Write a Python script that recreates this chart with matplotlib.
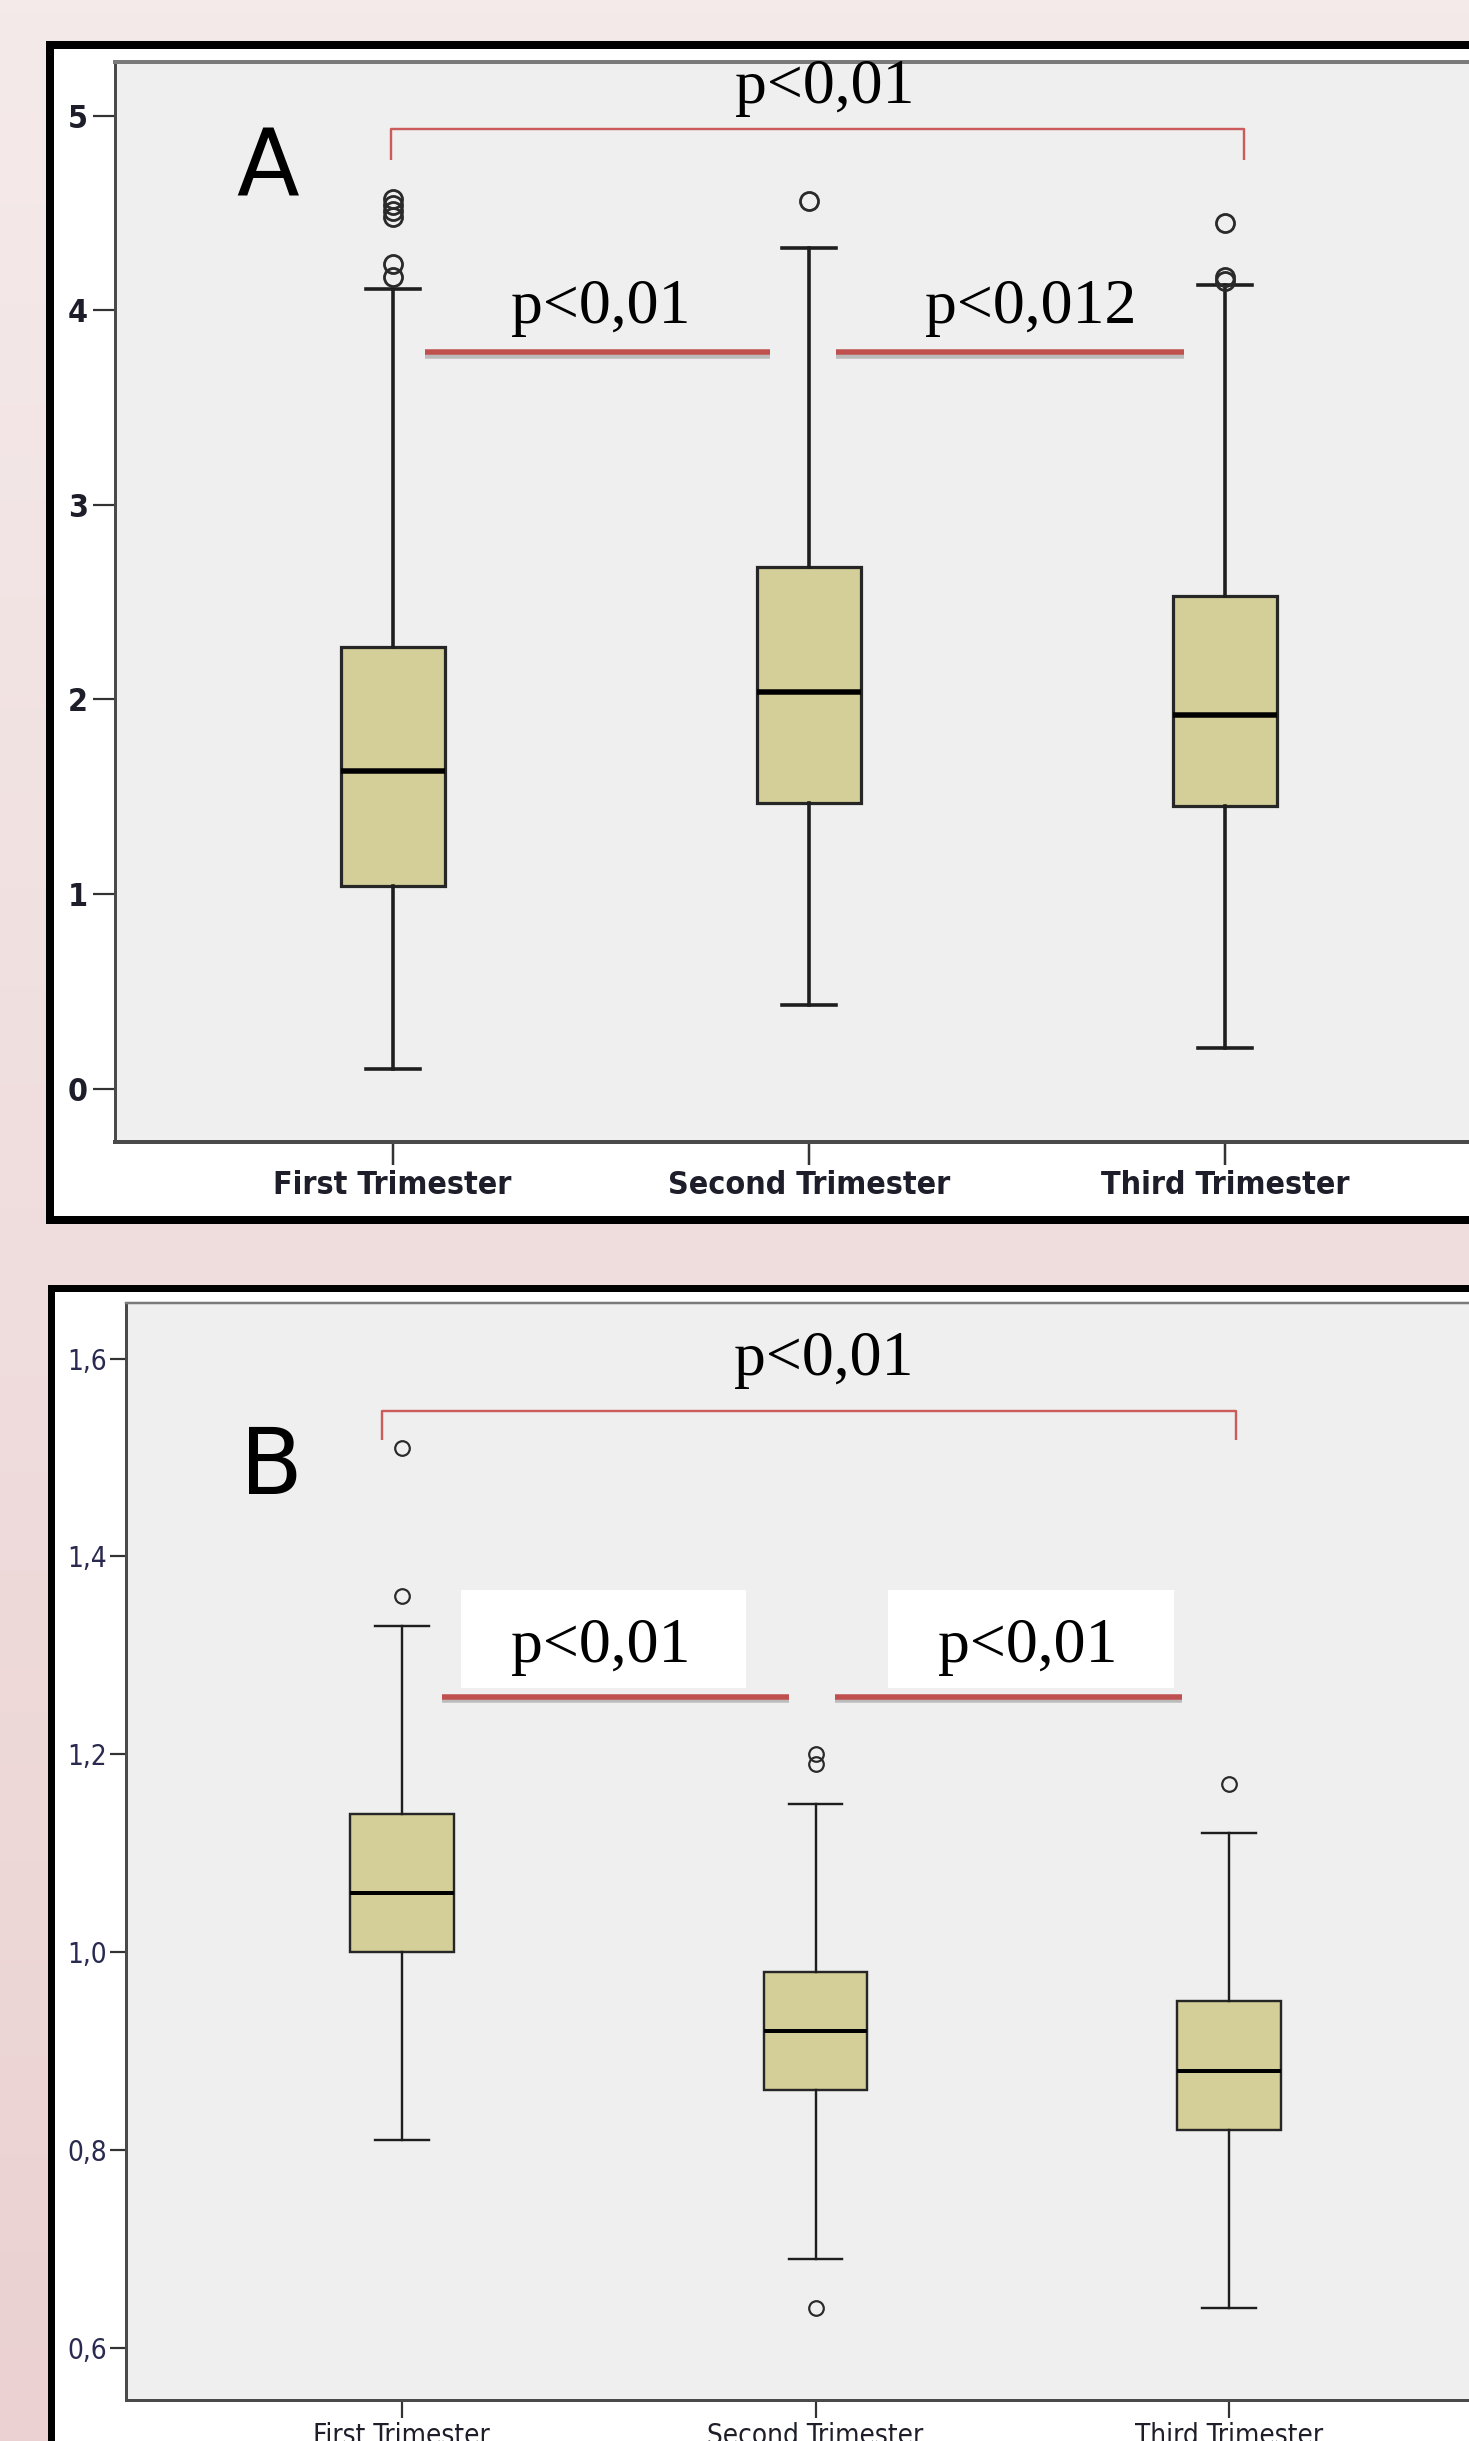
import numpy as np
import matplotlib
matplotlib.use("Agg")
import matplotlib.pyplot as plt
from matplotlib.patches import Rectangle
from matplotlib import font_manager
from matplotlib.font_manager import FontProperties
import matplotlib.patheffects as pe

# ---------------- data ----------------
categories = ["First Trimester", "Second Trimester", "Third Trimester"]

# Panel A
a_whislo = [0.10, 0.43, 0.21]
a_q1 = [1.04, 1.47, 1.45]
a_med = [1.63, 2.04, 1.92]
a_q3 = [2.27, 2.68, 2.53]
a_whishi = [4.11, 4.32, 4.13]
a_fliers = [[4.57, 4.54, 4.51, 4.48, 4.24, 4.17], [4.56], [4.45, 4.17, 4.15]]
a_yticks = [0, 1, 2, 3, 4, 5]
a_yticklabels = ["0", "1", "2", "3", "4", "5"]
a_pvals = ["p<0,01", "p<0,01", "p<0,012"]   # top, left pair, right pair

# Panel B
b_whislo = [0.81, 0.69, 0.64]
b_q1 = [1.00, 0.86, 0.82]
b_med = [1.06, 0.92, 0.88]
b_q3 = [1.14, 0.98, 0.95]
b_whishi = [1.33, 1.15, 1.12]
b_fliers = [[1.51, 1.36], [1.20, 1.19, 0.64], [1.17]]
b_yticks = [0.6, 0.8, 1.0, 1.2, 1.4, 1.6]
b_yticklabels = ["0,6", "0,8", "1,0", "1,2", "1,4", "1,6"]
b_pvals = ["p<0,01", "p<0,01", "p<0,01"]

panel_letters = ["A", "B"]

# ---------------- fonts ----------------
ttf = font_manager.fontManager.ttflist
names = {f.name for f in ttf}


def find_font(cands, bold):
    for nm in cands:
        for f in ttf:
            if f.name == nm and f.style == "normal":
                w = f.weight if isinstance(f.weight, int) else (700 if "bold" in str(f.weight) else 400)
                if (w >= 600) == bold:
                    return f.fname
    return None


cond_bold = None
cond_reg = None
for f in ttf:
    if "Condensed" in f.fname and "DejaVuSans" in f.fname.replace(" ", ""):
        if "Bold" in f.fname and "Oblique" not in f.fname:
            cond_bold = f.fname
        elif "Bold" not in f.fname and "Oblique" not in f.fname:
            cond_reg = f.fname
if "Liberation Sans Narrow" in names:
    nb = find_font(["Liberation Sans Narrow"], True)
    nr = find_font(["Liberation Sans Narrow"], False)
    cond_bold = cond_bold or nb
    cond_reg = cond_reg or nr

if cond_bold:
    FP_AX = FontProperties(fname=cond_bold)
    AX_SIZE, AY_SIZE = 23, 23
else:
    FP_AX = FontProperties(family="Liberation Sans", weight="bold")
    AX_SIZE, AY_SIZE = 21, 21
if cond_reg:
    FP_BX = FontProperties(fname=cond_reg)
    BX_SIZE, BY_SIZE = 20, 20
else:
    FP_BX = FontProperties(family="Liberation Sans")
    BX_SIZE, BY_SIZE = 18, 19

SERIF = "Liberation Serif" if "Liberation Serif" in names else "DejaVu Serif"
BOXFILL = "#d4cf98"
AXBG = "#efefef"
RED = "#c0504d"
TXT = "#1e1e2a"

W, H = 1469, 2441
DPI = 100
fig = plt.figure(figsize=(W / DPI, H / DPI), dpi=DPI)
px = 72.0 / DPI  # points per pixel

# background gradient + frames (pixel coordinates)
bg = fig.add_axes([0, 0, 1, 1], zorder=-10)
bg.set_xlim(0, W)
bg.set_ylim(H, 0)
bg.axis("off")
top_c = np.array([0.960, 0.918, 0.918])
bot_c = np.array([0.922, 0.820, 0.820])
t = np.linspace(0, 1, 256)[:, None, None]
grad = top_c * (1 - t) + bot_c * t
grad = np.repeat(grad, 2, axis=1)
bg.imshow(grad, extent=[0, W, H, 0], aspect="auto", interpolation="bilinear")
bg.add_patch(Rectangle((50, 45), 1700, 1175, facecolor="white", edgecolor="black",
                       linewidth=8 * px))
bg.add_patch(Rectangle((51.5, 1287.5), 1700, 1400, facecolor="white", edgecolor="black",
                       linewidth=7 * px))


def make_stats(wl, q1, med, q3, wh, fl):
    return [dict(whislo=wl[i], q1=q1[i], med=med[i], q3=q3[i], whishi=wh[i],
                 fliers=fl[i], label=categories[i]) for i in range(len(categories))]


def draw_panel(rect, stats, ylim, yticks, yticklabels, big):
    ax = fig.add_axes(rect)
    ax.set_facecolor(AXBG)
    lw_box = (3.2 if big else 2.4) * px
    lw_wh = (3.6 if big else 2.4) * px
    lw_med = (5.5 if big else 4.0) * px
    ms = 13 if big else 10.5
    ax.bxp(stats, positions=[1, 2, 3], widths=0.25, patch_artist=True,
           showfliers=True,
           boxprops=dict(facecolor=BOXFILL, edgecolor="#262626", linewidth=lw_box),
           medianprops=dict(color="black", linewidth=lw_med),
           whiskerprops=dict(color="#1e1e1e", linewidth=lw_wh),
           capprops=dict(color="#1e1e1e", linewidth=lw_wh),
           capwidths=0.13,
           flierprops=dict(marker="o", markerfacecolor="none", markeredgecolor="#2a2a2a",
                           markersize=ms, markeredgewidth=(2.8 if big else 2.2) * px))
    ax.set_xlim(1 / 3, 3 + 2 / 3)
    ax.set_ylim(*ylim)
    ax.set_yticks(yticks)
    ax.set_yticklabels(yticklabels)
    ax.set_xticks([1, 2, 3])
    ax.set_xticklabels(categories)
    for s in ["left", "bottom", "top", "right"]:
        ax.spines[s].set_color("#4a4a4a")
    ax.spines["left"].set_linewidth(3 * px)
    ax.spines["bottom"].set_linewidth((4 if big else 3) * px)
    ax.spines["top"].set_linewidth((4 if big else 2.5) * px)
    ax.spines["top"].set_color("#7a7a7a")
    if big:
        ax.tick_params(axis="y", length=22 * px, width=2.2 * px, color="#333333",
                       pad=5 * px, labelcolor=TXT)
        ax.tick_params(axis="x", length=23 * px, width=2.5 * px, color="#333333",
                       pad=5 * px, labelcolor=TXT)
        for lab in ax.get_yticklabels():
            lab.set_fontproperties(FP_AX)
            lab.set_fontsize(AY_SIZE)
        for lab in ax.get_xticklabels():
            lab.set_fontproperties(FP_AX)
            lab.set_fontsize(AX_SIZE)
    else:
        ax.tick_params(axis="y", length=16 * px, width=2.2 * px, color="#333333",
                       pad=3 * px, labelcolor="#2a2a50")
        ax.tick_params(axis="x", length=18 * px, width=2.2 * px, color="#333333",
                       pad=4 * px, labelcolor=TXT)
        for lab in ax.get_yticklabels():
            lab.set_fontproperties(FP_BX)
            lab.set_fontsize(BY_SIZE)
        for lab in ax.get_xticklabels():
            lab.set_fontproperties(FP_BX)
            lab.set_fontsize(BX_SIZE)
    return ax


shadow = [pe.SimpleLineShadow(offset=(0, -2.5), shadow_color="#888888", alpha=0.5),
          pe.Normal()]

# ---------------- Panel A ----------------
axA = draw_panel([115 / W, 1 - 1141.7 / H, 1388 / W, (1141.7 - 61.7) / H],
                 make_stats(a_whislo, a_q1, a_med, a_q3, a_whishi, a_fliers),
                 (-0.273, 5.278), a_yticks, a_yticklabels, True)
axA.plot([0.995, 0.995, 3.045, 3.045], [4.772, 4.930, 4.930, 4.772],
         color="#cc5c5c", lw=2.4 * px, solid_capstyle="butt", zorder=5)
axA.text(2.038, 5.065, a_pvals[0], fontsize=46, family=SERIF, ha="center",
         va="baseline", color="black", zorder=6)
axA.plot([1.078, 1.906], [3.784, 3.784], color=RED, lw=5.5 * px,
         solid_capstyle="butt", path_effects=shadow, zorder=5)
axA.plot([2.065, 2.900], [3.784, 3.784], color=RED, lw=5.5 * px,
         solid_capstyle="butt", path_effects=shadow, zorder=5)
axA.text(1.500, 3.934, a_pvals[1], fontsize=46, family=SERIF, ha="center",
         va="baseline", color="black", zorder=6)
axA.text(2.533, 3.934, a_pvals[2], fontsize=46, family=SERIF, ha="center",
         va="baseline", color="black", zorder=6)
axA.text(0.700, 4.726, panel_letters[0], fontsize=66, family="DejaVu Sans",
         ha="center", va="center", color="black", zorder=6)

# ---------------- Panel B ----------------
axB = draw_panel([126 / W, 1 - 2400 / H, 1379 / W, (2400 - 1302.7) / H],
                 make_stats(b_whislo, b_q1, b_med, b_q3, b_whishi, b_fliers),
                 (0.547, 1.6565), b_yticks, b_yticklabels, False)
axB.plot([0.952, 0.952, 3.016, 3.016], [1.5177, 1.5473, 1.5473, 1.5177],
         color="#cc5c5c", lw=2.4 * px, solid_capstyle="butt", zorder=5)
axB.text(2.020, 1.583, b_pvals[0], fontsize=46, family=SERIF, ha="center",
         va="baseline", color="black", zorder=6)
axB.add_patch(Rectangle((1.144, 1.267), 1.833 - 1.144, 1.366 - 1.267,
                        facecolor="white", edgecolor="none", zorder=4))
axB.add_patch(Rectangle((2.176, 1.267), 2.866 - 2.176, 1.366 - 1.267,
                        facecolor="white", edgecolor="none", zorder=4))
axB.plot([1.098, 1.937], [1.258, 1.258], color=RED, lw=5.5 * px,
         solid_capstyle="butt", path_effects=shadow, zorder=5)
axB.plot([2.048, 2.885], [1.258, 1.258], color=RED, lw=5.5 * px,
         solid_capstyle="butt", path_effects=shadow, zorder=5)
axB.text(1.480, 1.2935, b_pvals[1], fontsize=46, family=SERIF, ha="center",
         va="baseline", color="black", zorder=6)
axB.text(2.513, 1.2935, b_pvals[2], fontsize=46, family=SERIF, ha="center",
         va="baseline", color="black", zorder=6)
axB.text(0.684, 1.489, panel_letters[1], fontsize=66, family="DejaVu Sans",
         ha="center", va="center", color="black", zorder=6)

fig.savefig("out.png", dpi=DPI)
